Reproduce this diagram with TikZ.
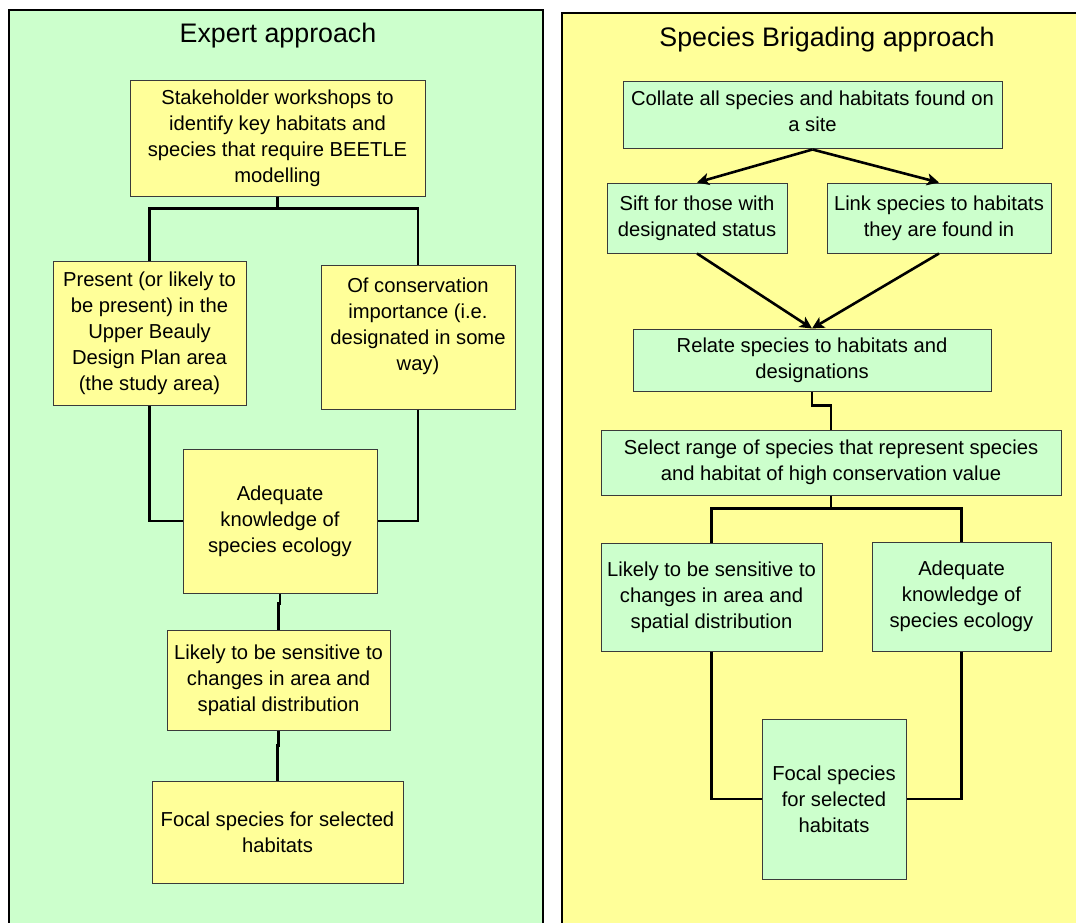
\documentclass[tikz,border=0pt]{standalone}
\usepackage{fontspec}
\setmainfont{Liberation Sans}
\usetikzlibrary{arrows.meta}
\definecolor{grn}{HTML}{CCFFCC}
\definecolor{ylw}{HTML}{FFFF99}
\definecolor{boxline}{HTML}{3A3A3A}
\begin{document}
\begin{tikzpicture}[x=1pt,y=-1pt,
  box/.style={draw=boxline, line width=1pt, align=center, inner sep=0pt,
    font=\fontsize{20.2}{26}\selectfont},
  ybox/.style={box, fill=ylw},
  gbox/.style={box, fill=grn},
  ttl/.style={anchor=base, inner sep=0pt, font=\fontsize{26.8}{30}\selectfont},
  conn/.style={line width=2.6pt, line join=miter},
  arr/.style={conn, -{Stealth[length=12pt,width=12pt,inset=3pt]}},
]
\useasboundingbox (0,0) rectangle (1076,923);
\clip (0,0) rectangle (1076,923);
\fill[white] (0,0) rectangle (1076,923);
% panels
\draw[fill=grn, line width=1.3pt] (9,10) rectangle (543,940);
\draw[fill=ylw, line width=2.6pt] (562,13) rectangle (1095,940);
\node[ttl] (t1) at (278,43) {Expert approach};
\node[ttl] (t2) at (827,47) {Species Brigading approach};

% left: expert approach
\node[ybox, minimum width=295pt, minimum height=115pt] (a) at (277.5,138.5)
  {Stakeholder workshops to\\identify key habitats and\\species that require BEETLE\\modelling};
\node[ybox, minimum width=193pt, minimum height=144pt] (b) at (149.5,333)
  {Present (or likely to\\be present) in the\\Upper Beauly\\Design Plan area\\(the study area)};
\node[ybox, minimum width=194pt, minimum height=144pt] (c) at (418,337)
  {Of conservation\\importance (i.e.\\designated in some\\way)\\\mbox{}};
\node[ybox, minimum width=194pt, minimum height=144pt] (d) at (280,521)
  {Adequate\\knowledge of\\species ecology};
\node[ybox, minimum width=223pt, minimum height=100pt] (e) at (278.5,680)
  {Likely to be sensitive to\\changes in area and\\spatial distribution};
\node[ybox, minimum width=251pt, minimum height=102pt] (f) at (277.5,832)
  {Focal species for selected\\habitats};

\draw[conn] (a.south) -- ++(0,12) coordinate (a1);
\draw[conn] (a1) -| (b.north);
\draw[conn] (a1) -| (c.north);
\draw[conn] (b.south) |- (d.west);
\draw[conn] (c.south) |- (d.east);
\draw[conn] (d.south) -- ++(0,10) -| (e.north);
\draw[conn] (e.south) -- ++(0,15) -| (f.north);

% right: species brigading approach
\node[gbox, minimum width=379pt, minimum height=67pt] (g) at (812.5,115.5)
  {Collate all species and habitats found on\\a site\\[-18pt]\mbox{}};
\node[gbox, minimum width=180pt, minimum height=70pt] (h) at (697,218)
  {Sift for those with\\designated status};
\node[gbox, minimum width=224pt, minimum height=70pt] (i) at (939,218)
  {Link species to habitats\\they are found in};
\node[gbox, minimum width=358pt, minimum height=62pt] (j) at (812,360)
  {Relate species to habitats and\\designations};
\node[gbox, minimum width=460pt, minimum height=65pt] (k) at (831,462.5)
  {Select range of species that represent species\\and habitat of high conservation value};
\node[gbox, minimum width=221pt, minimum height=108pt] (l) at (711.5,597)
  {Likely to be sensitive to\\changes in area and\\spatial distribution};
\node[gbox, minimum width=179pt, minimum height=109pt] (m) at (961.5,596.5)
  {Adequate\\knowledge of\\species ecology};
\node[gbox, minimum width=144pt, minimum height=160pt] (n) at (834,799)
  {Focal species\\for selected\\habitats};

\draw[arr] (g.south) -- (h.north);
\draw[arr] (g.south) -- (i.north);
\draw[arr] (h.south) -- (j.north);
\draw[arr] (i.south) -- (j.north);
\draw[conn] (j.south) -- ++(0,14) -| (k.north);
\draw[conn] (k.south) -- ++(0,13) coordinate (k1);
\draw[conn] (k1) -| (l.north);
\draw[conn] (k1) -| (m.north);
\draw[conn] (l.south) |- (n.west);
\draw[conn] (m.south) |- (n.east);
\end{tikzpicture}
\end{document}
